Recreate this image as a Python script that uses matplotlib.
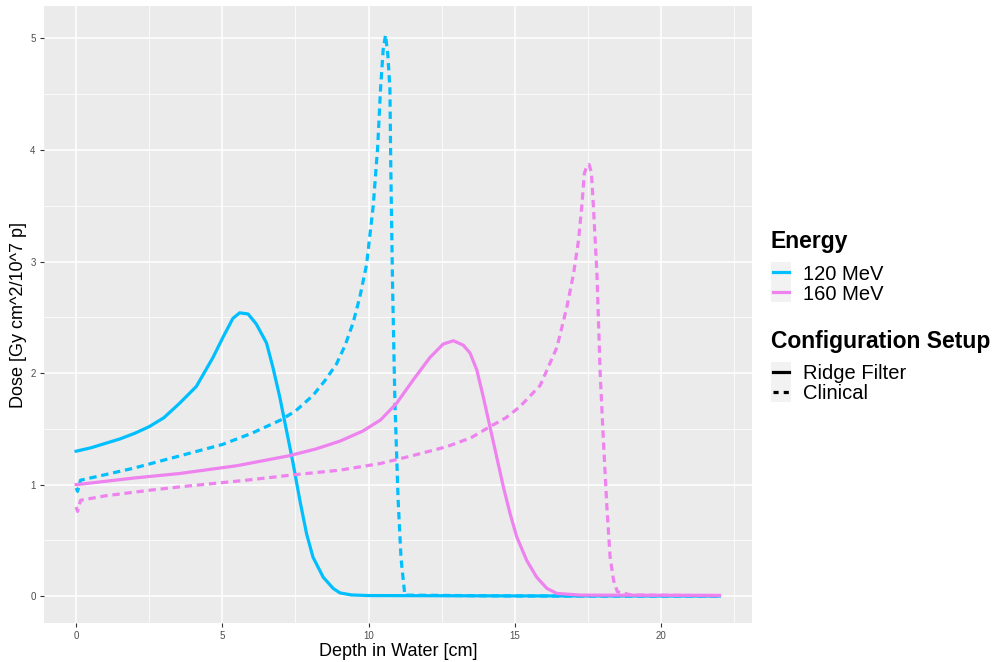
import matplotlib
matplotlib.use("Agg")
import matplotlib.pyplot as plt
from matplotlib.lines import Line2D
from matplotlib.patches import Rectangle
from matplotlib.ticker import MultipleLocator

plt.rcParams['font.family'] = ['Liberation Sans', 'DejaVu Sans']

# depth-dose curves, depth in cm, dose in Gy cm^2/10^7 p
depth_120_rf = [0, 0.5, 1, 1.5, 2, 2.5, 3, 3.54, 4.11, 4.68, 5.02, 5.36, 5.59, 5.88,
                6.16, 6.51, 6.73, 6.96, 7.19, 7.42, 7.65, 7.88, 8.10, 8.45, 8.79, 9.02,
                9.4, 10, 15, 22]
dose_120_rf = [1.30, 1.33, 1.37, 1.41, 1.46, 1.52, 1.60, 1.73, 1.88, 2.14, 2.32, 2.49,
               2.54, 2.53, 2.44, 2.27, 2.05, 1.79, 1.49, 1.19, 0.86, 0.56, 0.35, 0.17,
               0.07, 0.03, 0.012, 0.006, 0.003, 0.002]

depth_120_cl = [0, 0.05, 0.15, 1, 2, 3, 4, 5, 6, 7, 7.5, 8.1, 8.5, 8.9, 9.2, 9.47, 9.7,
                9.93, 10.16, 10.31, 10.41, 10.50, 10.58, 10.66, 10.73, 10.76, 10.82,
                10.90, 11.01, 11.11, 11.24, 15, 22]
dose_120_cl = [0.97, 0.94, 1.04, 1.09, 1.15, 1.22, 1.29, 1.36, 1.46, 1.58, 1.66, 1.80,
               1.93, 2.08, 2.25, 2.45, 2.68, 2.97, 3.50, 4.02, 4.55, 4.90, 5.03, 4.85,
               4.55, 3.85, 2.80, 1.75, 0.87, 0.34, 0.01, 0.002, 0.001]

depth_160_rf = [0, 2, 3.54, 5.5, 7.3, 8.2, 9.02, 9.8, 10.41, 10.96, 11.53, 12.10, 12.55,
                12.90, 13.24, 13.47, 13.70, 13.92, 14.15, 14.38, 14.61, 14.84, 15.07,
                15.41, 15.75, 16.10, 16.44, 17.24, 22]
dose_160_rf = [1.00, 1.06, 1.10, 1.17, 1.26, 1.32, 1.39, 1.48, 1.58, 1.73, 1.94, 2.14,
               2.26, 2.29, 2.25, 2.18, 2.03, 1.79, 1.52, 1.25, 0.98, 0.74, 0.53, 0.32,
               0.17, 0.07, 0.025, 0.01, 0.008]

depth_160_cl = [0, 0.05, 0.15, 1, 2.51, 3.54, 5.82, 7.5, 9.02, 10.41, 11.5, 12.67, 13.5,
                14.15, 14.7, 15.18, 15.87, 16.44, 16.78, 17.01, 17.18, 17.29, 17.38,
                17.47, 17.54, 17.62, 17.69, 17.81, 17.92, 18.03, 18.15, 18.26, 18.38,
                18.51, 19, 22]
dose_160_cl = [0.80, 0.76, 0.86, 0.90, 0.95, 0.98, 1.04, 1.09, 1.13, 1.19, 1.26, 1.34,
               1.42, 1.52, 1.60, 1.70, 1.89, 2.23, 2.59, 2.89, 3.19, 3.49, 3.79, 3.86,
               3.87, 3.80, 3.49, 2.89, 2.00, 1.40, 0.80, 0.35, 0.14, 0.04, 0.01, 0.005]

energies = ["120 MeV", "160 MeV"]
setups = ["Ridge Filter", "Clinical"]
colors = {"120 MeV": "#00BFFF", "160 MeV": "#EE82EE"}
styles = {"Ridge Filter": "-", "Clinical": (0, (2.3, 1.5))}

fig = plt.figure(figsize=(9.97, 6.62), dpi=100)
ax = fig.add_axes([0.0441, 0.0589, 0.7098, 0.932])
ax.set_facecolor("#EBEBEB")
for s in ax.spines.values():
    s.set_visible(False)

series = [
    ("120 MeV", "Ridge Filter", depth_120_rf, dose_120_rf),
    ("120 MeV", "Clinical", depth_120_cl, dose_120_cl),
    ("160 MeV", "Ridge Filter", depth_160_rf, dose_160_rf),
    ("160 MeV", "Clinical", depth_160_cl, dose_160_cl),
]
for energy, setup, d, dose in series:
    ax.plot(d, dose, color=colors[energy], linestyle=styles[setup], lw=2.3,
            solid_joinstyle='round', dash_capstyle='butt', zorder=3)

ax.set_xlim(-1.1, 23.1)
ax.set_ylim(-0.24, 5.29)
ax.xaxis.set_major_locator(MultipleLocator(5))
ax.xaxis.set_minor_locator(MultipleLocator(2.5))
ax.yaxis.set_major_locator(MultipleLocator(1))
ax.yaxis.set_minor_locator(MultipleLocator(0.5))
ax.grid(which='major', color='white', lw=1.1, zorder=0)
ax.grid(which='minor', color='white', lw=0.55, zorder=0)
ax.set_axisbelow(True)
ax.tick_params(which='major', length=3, width=0.8, color='#333333',
               labelsize=7, labelcolor='#4D4D4D', pad=3)
ax.tick_params(which='minor', length=0)

ax.set_xlabel("Depth in Water [cm]", fontsize=13, labelpad=1)
ax.set_ylabel("Dose [Gy cm^2/10^7 p]", fontsize=13, labelpad=2)

# legends drawn in figure pixel coordinates
W, H = 997, 662


def fx(px):
    return px / W


def fy(py):
    return 1 - py / H


def key(y_center, color, ls):
    fig.add_artist(Rectangle((fx(771), fy(y_center + 10)), 20 / W, 20 / H,
                             transform=fig.transFigure, facecolor='#F2F2F2',
                             edgecolor='none'))
    fig.add_artist(Line2D([fx(773), fx(789)], [fy(y_center), fy(y_center)],
                          transform=fig.transFigure, color=color, lw=2.3,
                          linestyle=ls))


fig.text(fx(771), fy(248), "Energy", fontsize=16.5, fontweight='bold', va='baseline')
for i, e in enumerate(energies):
    yc = 272 + 20 * i
    key(yc, colors[e], '-')
    fig.text(fx(803), fy(yc + 8), e, fontsize=14.5, va='baseline')

fig.text(fx(771), fy(348), "Configuration Setup", fontsize=16.5, fontweight='bold',
         va='baseline')
for i, s in enumerate(setups):
    yc = 372 + 20 * i
    key(yc, 'black', '-' if s == "Ridge Filter" else (0, (1.6, 1.6)))
    fig.text(fx(803), fy(yc + 7), s, fontsize=14.5, va='baseline')

fig.savefig("out.png", dpi=100)
